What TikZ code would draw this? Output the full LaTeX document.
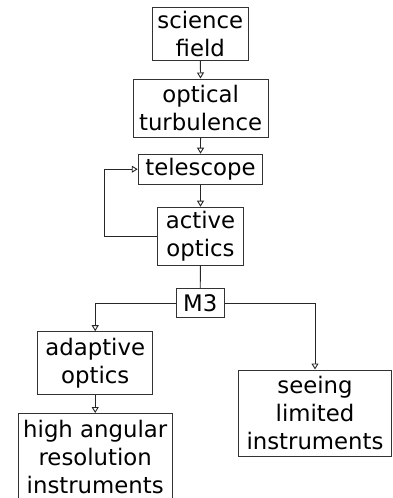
\documentclass[tikz,border=0pt]{standalone}
\usepackage{fontspec}
\setmainfont{DejaVu Sans}
\usetikzlibrary{arrows.meta}
\begin{document}
\begin{tikzpicture}[x=1pt,y=-1pt,
  box/.style={draw=black!80,line width=1pt,inner sep=0pt,align=center,
    font=\fontsize{22.8}{28}\selectfont},
  link/.style={draw=black!85,line width=0.9pt},
  arr/.style={link,-{Triangle[open,width=7pt,length=6pt]}}]
\clip (0,0) rectangle (393,498);
\useasboundingbox (0,0) rectangle (393,498);
% stages of the optical path
\node[box,minimum width=96pt,minimum height=53pt] (sci) at (200.3,33.5) {science\\field};
\node[box,minimum width=135pt,minimum height=58pt] (turb) at (200.6,108) {optical\\turbulence};
\node[box,minimum width=124.5pt,minimum height=30pt] (tel) at (200.5,169.2) {telescope};
\node[box,minimum width=86pt,minimum height=58pt] (act) at (200.5,236.2) {active\\optics};
\node[box,minimum width=48pt,minimum height=29pt] (m3) at (200.2,303.4) {M3};
\node[box,minimum width=115pt,minimum height=62.6pt] (ao) at (95.2,363) {adaptive\\optics};
\node[box,minimum width=153.7pt,minimum height=87pt] (har) at (95.2,457) {high angular\\resolution\\instruments};
\node[box,minimum width=153.4pt,minimum height=86pt] (sli) at (315,413) {seeing\\limited\\instruments};
% feedback loop from active optics back to the telescope
\coordinate (loop) at (104.3,236.2);
% connectors
\draw[arr] (sci) -- (turb);
\draw[arr] (turb) -- (tel);
\draw[arr] (tel) -- (act);
\draw[arr] (act.west) -- (loop) |- (tel.west);
\draw[link] (act) -- (m3);
\draw[arr] (m3.west) -| (ao.north);
\draw[arr] (m3.east) -| (sli.north);
\draw[arr] (ao) -- (har);
\end{tikzpicture}
\end{document}
